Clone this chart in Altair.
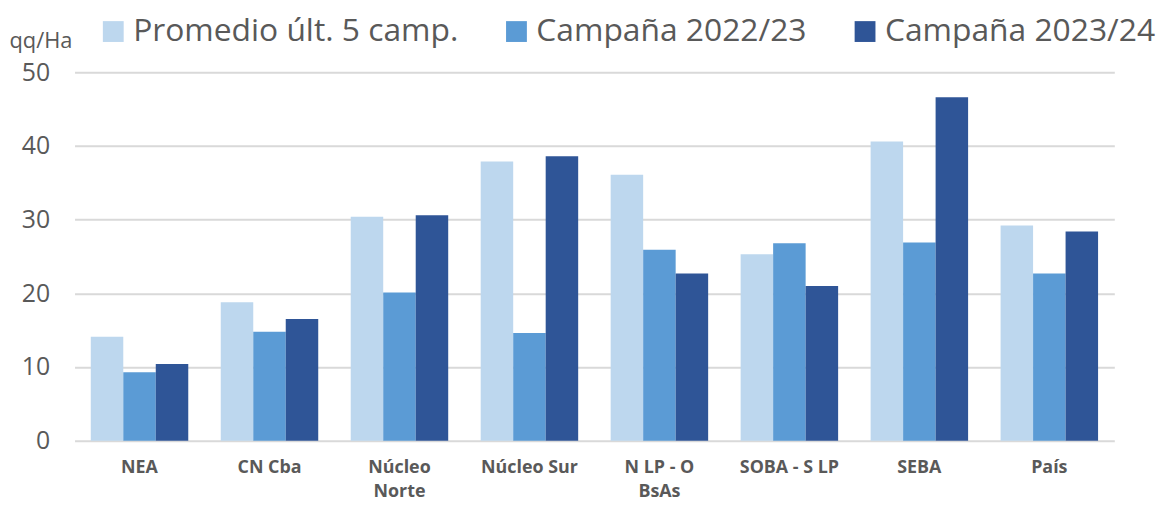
import altair as alt
import pandas as pd

categories = ["NEA", "CN Cba", "Núcleo|Norte", "Núcleo Sur", "N LP - O|BsAs", "SOBA - S LP", "SEBA", "País"]
series = ["Promedio últ. 5 camp.", "Campaña 2022/23", "Campaña 2023/24"]
promedio = [14.1, 18.8, 30.4, 37.9, 36.1, 25.3, 40.6, 29.2]
camp_2223 = [9.3, 14.8, 20.1, 14.6, 25.9, 26.8, 26.9, 22.7]
camp_2324 = [10.4, 16.5, 30.6, 38.6, 22.7, 21.0, 46.6, 28.4]
colors = ["#BDD7EE", "#5B9BD5", "#2F5597"]
y_ticks = [0, 10, 20, 30, 40, 50]

rows = []
for vals, s in zip([promedio, camp_2223, camp_2324], series):
    for c, v in zip(categories, vals):
        rows.append({"cat": c, "serie": s, "val": v})
df = pd.DataFrame(rows)

FONT = "Open Sans, Noto Sans, sans-serif"

chart = alt.Chart(df).mark_bar().encode(
    x=alt.X("cat:N", sort=categories,
            scale=alt.Scale(range=[0, 1047], paddingInner=0.25, paddingOuter=0.125),
            axis=alt.Axis(title=None, domain=False, ticks=False, labelAngle=0,
                          labelExpr="split(datum.label, '|')",
                          labelFont=FONT, labelFontSize=18, labelFontWeight="bold",
                          labelColor="#595959", labelPadding=18, labelLineHeight=24)),
    xOffset=alt.XOffset("serie:N", sort=series),
    y=alt.Y("val:Q", scale=alt.Scale(domain=[0, 50]),
            axis=alt.Axis(values=y_ticks, title="qq/Ha", titleAngle=0, titleAlign="left",
                          titleX=-66, titleY=-20, titleFont=FONT, titleFontSize=22,
                          titleFontWeight="normal", titleColor="#595959",
                          labelFont=FONT, labelFontSize=25, labelColor="#595959",
                          labelPadding=25, ticks=False, domain=False,
                          gridColor="#D9D9D9", gridWidth=2)),
    color=alt.Color("serie:N", sort=series,
                    scale=alt.Scale(domain=series, range=colors),
                    legend=alt.Legend(title=None, orient="none", direction="horizontal",
                                      legendX=23, legendY=-57, symbolType="square",
                                      symbolSize=440, symbolStrokeWidth=0,
                                      labelFont=FONT, labelFontSize=32, labelColor="#595959",
                                      labelOffset=4, columnPadding=42, labelLimit=600)),
).properties(
    width=1093, height=371,
    autosize=alt.AutoSizeParams(type="none"),
    padding={"left": 67, "top": 63, "right": 0, "bottom": 59},
).configure_view(stroke=None)

chart.save("out.html", embed_options={"renderer": "svg", "actions": False})
